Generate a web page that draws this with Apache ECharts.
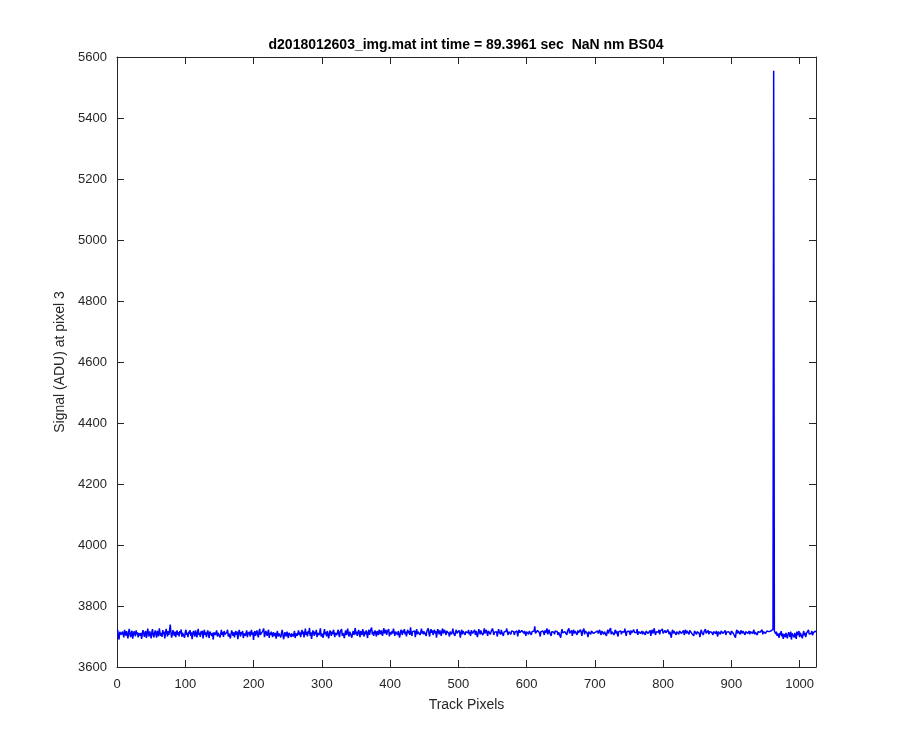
<!DOCTYPE html>
<html>
<head>
<meta charset="utf-8">
<script src="https://cdn.jsdelivr.net/npm/echarts@6/dist/echarts.min.js"></script>
<style>html,body{margin:0;padding:0;background:#fff;}#chart{width:900px;height:750px;}</style>
</head>
<body>
<div id="chart"></div>
<script>
const titleText = 'd2018012603_img.mat int time = 89.3961 sec  NaN nm BS04';
const xLabel = 'Track Pixels';
const yLabel = 'Signal (ADU) at pixel 3';
const xTicks = [0, 100, 200, 300, 400, 500, 600, 700, 800, 900, 1000];
const yTicks = [3600, 3800, 4000, 4200, 4400, 4600, 4800, 5000, 5200, 5400, 5600];
const signal = [
3722,3698,3690,3715,3719,3706,3700,3716,3711,3697,3722,3712,3703,3718,3705,3694,3714,3725,3707,3698,3712,3719,3693,3706,3717,3710,3701,3720,3707,3714,3697,3711,
3716,3703,3712,3692,3707,3721,3713,3699,3710,3718,3695,3705,3726,3712,3700,3717,3707,3694,3714,3724,3705,3697,3712,3720,3707,3696,3719,3710,3701,3727,3713,3702,
3712,3699,3721,3707,3716,3694,3710,3725,3713,3700,3718,3705,3720,3739,3713,3696,3707,3721,3712,3702,3716,3698,3710,3720,3705,3714,3700,3718,3710,3723,3699,3712,
3707,3718,3696,3714,3722,3705,3712,3698,3716,3709,3721,3702,3714,3691,3707,3718,3711,3700,3720,3710,3697,3714,3725,3705,3712,3699,3717,3707,3719,3694,3710,3722,
3705,3714,3698,3712,3720,3707,3695,3716,3710,3722,3702,3712,3690,3714,3718,3705,3710,3720,3700,3712,3707,3716,3697,3710,3722,3705,3714,3699,3718,3707,3712,3702,
3714,3722,3700,3710,3716,3694,3707,3720,3712,3702,3714,3697,3710,3718,3705,3716,3691,3707,3722,3712,3700,3714,3707,3718,3695,3710,3716,3702,3712,3720,3698,3714,
3707,3716,3700,3712,3722,3705,3714,3689,3710,3718,3702,3712,3720,3707,3697,3714,3725,3705,3710,3700,3716,3712,3726,3698,3707,3718,3710,3702,3714,3722,3695,3712,
3705,3716,3710,3698,3714,3720,3702,3712,3693,3707,3718,3700,3710,3716,3705,3697,3712,3722,3707,3691,3702,3714,3710,3700,3716,3707,3695,3712,3718,3705,3698,3710,
3714,3700,3707,3718,3695,3710,3716,3702,3712,3720,3705,3714,3698,3710,3722,3707,3716,3697,3712,3726,3705,3714,3700,3718,3710,3728,3702,3714,3692,3707,3720,3712,
3702,3716,3707,3722,3698,3712,3718,3705,3714,3727,3700,3710,3716,3696,3712,3724,3707,3714,3700,3718,3710,3694,3705,3720,3712,3702,3716,3707,3722,3714,3698,3712,
3718,3705,3714,3722,3707,3698,3716,3710,3724,3702,3712,3718,3695,3710,3720,3705,3714,3726,3707,3700,3716,3712,3722,3696,3710,3718,3705,3714,3728,3707,3716,3702,
3712,3722,3710,3698,3718,3714,3705,3724,3712,3700,3716,3707,3720,3710,3695,3714,3722,3705,3718,3712,3729,3707,3716,3702,3712,3720,3710,3700,3718,3714,3705,3722,
3716,3707,3720,3712,3702,3718,3727,3710,3714,3722,3705,3716,3712,3724,3700,3714,3720,3707,3718,3710,3726,3714,3702,3716,3722,3712,3705,3718,3714,3696,3710,3722,
3714,3705,3720,3712,3724,3707,3716,3700,3714,3722,3710,3718,3705,3730,3712,3702,3716,3722,3710,3718,3698,3714,3724,3707,3716,3712,3720,3705,3714,3726,3710,3718,
3707,3716,3722,3712,3702,3718,3714,3727,3710,3700,3716,3724,3712,3720,3705,3714,3722,3710,3718,3696,3712,3724,3716,3707,3720,3714,3702,3718,3726,3710,3716,3722,
3712,3705,3718,3714,3724,3710,3700,3716,3720,3707,3714,3726,3712,3718,3702,3714,3722,3710,3716,3705,3720,3712,3696,3714,3722,3707,3718,3712,3724,3705,3716,3710,
3718,3712,3722,3707,3714,3702,3720,3726,3710,3716,3712,3722,3705,3718,3714,3698,3712,3724,3716,3707,3720,3712,3718,3705,3714,3727,3710,3716,3722,3712,3702,3718,
3714,3722,3707,3716,3712,3726,3718,3705,3714,3720,3710,3716,3700,3712,3724,3714,3718,3707,3722,3712,3716,3702,3714,3720,3710,3718,3726,3712,3705,3716,3722,3714,
3707,3718,3712,3724,3716,3705,3714,3720,3710,3718,3700,3714,3722,3712,3716,3707,3720,3714,3726,3710,3718,3712,3702,3716,3722,3714,3707,3718,3712,3720,3705,3716,
3722,3712,3718,3733,3710,3716,3707,3720,3714,3724,3712,3700,3716,3722,3710,3718,3714,3705,3720,3712,3716,3726,3707,3714,3722,3712,3718,3702,3716,3710,3720,3714,
3707,3718,3712,3722,3716,3705,3714,3720,3710,3696,3714,3724,3712,3718,3707,3716,3722,3712,3705,3718,3714,3727,3710,3716,3712,3720,3702,3714,3722,3710,3718,3712,
3716,3705,3720,3712,3718,3710,3722,3714,3702,3716,3712,3726,3707,3718,3714,3722,3710,3698,3716,3712,3720,3707,3718,3714,3724,3710,3716,3705,3714,3720,3712,3718,
3710,3716,3722,3712,3705,3718,3714,3724,3707,3716,3712,3720,3702,3714,3722,3710,3718,3712,3728,3707,3716,3712,3720,3705,3714,3722,3710,3718,3712,3700,3716,3722,
3712,3718,3707,3716,3722,3710,3714,3726,3712,3702,3716,3720,3710,3718,3714,3705,3720,3712,3716,3707,3722,3714,3710,3718,3712,3724,3705,3716,3712,3720,3710,3714,
3718,3707,3716,3722,3712,3705,3718,3714,3724,3710,3716,3712,3720,3702,3714,3722,3710,3718,3727,3712,3705,3716,3720,3710,3714,3722,3707,3718,3712,3716,3724,3710,
3716,3705,3720,3712,3718,3710,3722,3714,3707,3716,3712,3696,3714,3722,3710,3718,3712,3720,3705,3716,3722,3712,3707,3718,3714,3724,3710,3716,3712,3720,3705,3714,
3722,3710,3718,3712,3716,3707,3720,3714,3726,3710,3716,3712,3702,3718,3714,3722,3707,3716,3712,3720,3710,3698,3714,3722,3712,3718,3705,3716,3712,3724,3710,3716,
3712,3720,3707,3716,3722,3710,3714,3718,3705,3716,3712,3722,3710,3718,3714,3700,3716,3720,3712,3707,3718,3714,3724,3710,3716,3712,3720,3705,3714,3718,3710,3716,
3722,3712,3705,3718,3714,3720,3710,3716,3712,3696,3714,3722,3710,3718,3712,3716,3707,3720,3714,3710,3718,3712,3722,3705,3716,3712,3720,3710,3714,3718,3707,3716,
3712,3720,3710,3716,3722,3707,3714,3718,3712,3705,3716,3720,3710,3714,3718,3712,3722,3707,3716,3712,3720,3710,3714,3718,3722,3712,3716,3720,3714,3718,3720,3722,
3724,5555,3718,3712,3708,3716,3702,3710,3714,3696,3712,3705,3718,3700,3710,3692,3708,3714,3698,3712,3718,3694,3706,3714,3708,3698,3716,3690,3710,3704,3714,3697,
3712,3706,3692,3716,3704,3710,3718,3698,3712,3706,3714,3694,3708,3718,3704,3712,3698,3710,3716,3706,3722,3708,3702,3714,3710,3718,3704,3712,3716,3708,3718,3714
];
const pixels = signal.map((v, i) => i + 1);

const FONT = '"Liberation Sans", Arial, Helvetica, sans-serif';
const AX = '#262626';
const chart = echarts.init(document.getElementById('chart'), null, {renderer: 'canvas'});
const axisCommon = {
  axisLine: {show: true, onZero: false, lineStyle: {color: AX, width: 1}},
  axisTick: {show: true, inside: true, length: 7, lineStyle: {color: AX, width: 1}},
  splitLine: {show: false}
};
chart.setOption({
  animation: false,
  backgroundColor: '#fff',
  title: {
    text: titleText, left: 461, top: 33, textAlign: 'center',
    textStyle: {fontFamily: FONT, fontSize: 14, fontWeight: 'bold', color: '#000'}
  },
  grid: {left: 117, right: 84, top: 57, bottom: 83, containLabel: false},
  xAxis: [
    Object.assign({
      type: 'value', position: 'bottom', min: xTicks[0], max: 1024, interval: 100,
      name: xLabel, nameLocation: 'middle', nameGap: 31,
      nameTextStyle: {fontFamily: FONT, fontSize: 14, color: AX},
      axisLabel: {fontFamily: FONT, fontSize: 13, color: AX, margin: 11, showMaxLabel: false,
        formatter: v => xTicks.indexOf(v) >= 0 ? String(v) : ''}
    }, axisCommon),
    Object.assign({
      type: 'value', position: 'top', min: xTicks[0], max: 1024, interval: 100,
      axisLabel: {show: false}
    }, axisCommon)
  ],
  yAxis: [
    Object.assign({
      type: 'value', position: 'left', min: yTicks[0], max: yTicks[yTicks.length - 1], interval: 200,
      name: yLabel, nameLocation: 'middle', nameGap: 44,
      nameTextStyle: {fontFamily: FONT, fontSize: 14, color: AX},
      axisLabel: {fontFamily: FONT, fontSize: 13, color: AX, margin: 10,
        formatter: v => yTicks.indexOf(v) >= 0 ? String(v) : ''}
    }, axisCommon),
    Object.assign({
      type: 'value', position: 'right', min: yTicks[0], max: yTicks[yTicks.length - 1], interval: 200,
      axisLabel: {show: false}
    }, axisCommon)
  ],
  series: [{
    type: 'line',
    data: signal.map((v, i) => [pixels[i], v]),
    showSymbol: false,
    symbol: 'none',
    lineStyle: {color: '#0000ff', width: 1.5},
    xAxisIndex: 0, yAxisIndex: 0
  }]
});
</script>
</body>
</html>
